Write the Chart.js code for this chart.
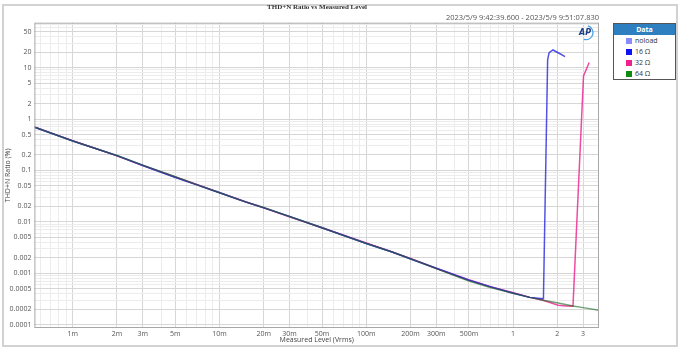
<!DOCTYPE html>
<html>
<head>
<meta charset="utf-8">
<script src="https://cdn.jsdelivr.net/npm/chart.js@4"></script>
<style>
  body { margin: 0; background: #fff; font-family: "Open Sans", sans-serif; }
  #wrap { position: relative; width: 692px; height: 363px; }
  #frame { position: absolute; left: 2px; top: 4px; width: 672px; height: 339px; border: 2px solid #d2d2d2; }
  #title { position: absolute; left: 0; width: 634px; top: 3px; text-align: center; font: bold 7px "Liberation Serif", serif; color: #333; }
  #stamp { position: absolute; right: 93px; top: 12px; font: 7.5px "Open Sans", sans-serif; color: #555; }
  #legend { position: absolute; left: 613px; top: 23px; width: 61px; height: 55px; border: 1px solid #555; background: #fff; }
  #legend .head { background: #2e7fbf; color: #fff; font: bold 7px "Open Sans", sans-serif; text-align: center; height: 11px; line-height: 11px; }
  #legend .item { position: absolute; left: 12px; font: 7px "Open Sans", sans-serif; color: #333; line-height: 8px; }
  #legend .sw { display: inline-block; width: 6px; height: 6px; margin-right: 3px; vertical-align: -1px; }
  canvas { position: absolute; left: 0; top: 0; }
</style>
</head>
<body>
<div id="wrap">
  <div id="frame"></div>
  <canvas id="chart" width="692" height="363"></canvas>
  <div id="title">THD+N Ratio vs Measured Level</div>
  <div id="stamp">2023/5/9 9:42:39.600 - 2023/5/9 9:51:07.830</div>
  <div id="legend"><div class="head">Data</div></div>
</div>
<script>
// measured level (Vrms) and THD+N ratio (%)
const seriesNames = ['noload', '16 Ω', '32 Ω', '64 Ω'];
const seriesColors = ['#8a8aff', '#1010f0', '#f0208c', '#108a10'];
const lineColors = ['rgba(138,138,255,0.8)', 'rgba(40,40,220,0.8)', 'rgba(235,30,140,0.8)', 'rgba(20,100,30,0.6)'];

const levelsNoload = [0.00055, 0.0007, 0.001, 0.0015, 0.002, 0.003, 0.005, 0.007, 0.01, 0.015, 0.02, 0.03, 0.05, 0.07, 0.1, 0.15, 0.2, 0.3, 0.5, 0.7, 1.0, 1.3, 1.6];
const thdNoload =    [0.69, 0.54, 0.376, 0.254, 0.195, 0.126, 0.0745, 0.053, 0.0372, 0.0246, 0.0189, 0.0126, 0.0078, 0.0054, 0.0038, 0.0026, 0.00193, 0.00126, 0.00075, 0.00054, 0.00042, 0.00034, 0.00031];

const levels16 = [0.00055, 0.0007, 0.001, 0.0015, 0.002, 0.003, 0.005, 0.007, 0.01, 0.015, 0.02, 0.03, 0.05, 0.07, 0.1, 0.15, 0.2, 0.3, 0.5, 0.7, 1.0, 1.3, 1.61, 1.72, 1.76, 1.87, 2.06, 2.26];
const thd16 =    [0.69, 0.54, 0.375, 0.255, 0.194, 0.125, 0.073, 0.0525, 0.0368, 0.0245, 0.0187, 0.0128, 0.0076, 0.0055, 0.0038, 0.0026, 0.0019, 0.00125, 0.00073, 0.00055, 0.00041, 0.00034, 0.00032, 14.2, 19.5, 22, 19, 16.4];

const levels32 = [0.00055, 0.0007, 0.001, 0.0015, 0.002, 0.003, 0.005, 0.007, 0.01, 0.015, 0.02, 0.03, 0.05, 0.07, 0.1, 0.15, 0.2, 0.3, 0.5, 0.7, 1.0, 1.3, 1.6, 2.03, 2.3, 2.56, 3.02, 3.3];
const thd32 =    [0.70, 0.545, 0.377, 0.256, 0.192, 0.124, 0.0745, 0.0535, 0.0370, 0.0247, 0.0188, 0.0125, 0.0077, 0.0055, 0.0039, 0.0026, 0.00195, 0.00124, 0.00074, 0.00055, 0.00042, 0.00034, 0.00030, 0.00024, 0.000232, 0.00023, 6.9, 12.6];

const levels64 = [0.00055, 0.0007, 0.001, 0.0015, 0.002, 0.003, 0.005, 0.007, 0.01, 0.015, 0.02, 0.03, 0.05, 0.07, 0.1, 0.15, 0.2, 0.3, 0.5, 0.7, 1.0, 1.3, 1.6, 2.03, 2.56, 3.0, 3.85];
const thd64 =    [0.69, 0.54, 0.375, 0.256, 0.195, 0.127, 0.0755, 0.053, 0.0368, 0.0245, 0.019, 0.0127, 0.0077, 0.0054, 0.0038, 0.0026, 0.00192, 0.00123, 0.00071, 0.00053, 0.00041, 0.00034, 0.00030, 0.000265, 0.000232, 0.000215, 0.00019];

const xTickValues = [0.001, 0.002, 0.003, 0.005, 0.01, 0.02, 0.03, 0.05, 0.1, 0.2, 0.3, 0.5, 1, 2, 3];
const xTickLabels = ['1m', '2m', '3m', '5m', '10m', '20m', '30m', '50m', '100m', '200m', '300m', '500m', '1', '2', '3'];
const yTickValues = [50, 20, 10, 5, 2, 1, 0.5, 0.2, 0.1, 0.05, 0.02, 0.01, 0.005, 0.002, 0.001, 0.0005, 0.0002, 0.0001];
const yTickLabels = ['50', '20', '10', '5', '2', '1', '0.5', '0.2', '0.1', '0.05', '0.02', '0.01', '0.005', '0.002', '0.001', '0.0005', '0.0002', '0.0001'];

const xMin = 0.000548, xMax = 3.85;
const yMin = 0.0000863, yMax = 74.7;

const findLabel = (values, labels, v) => {
    for (let i = 0; i < values.length; i++)
        if (Math.abs(values[i] - v) / values[i] < 1e-6) return labels[i];
    return null;
};

// every 1..9 x 10^n inside the range, so the minor grid gets drawn too
const logTicks = (min, max) => {
    const ticks = [];
    for (let e = Math.floor(Math.log10(min)); e <= Math.ceil(Math.log10(max)); e++) {
        for (let k = 1; k <= 9; k++) {
            const v = Number((k * Math.pow(10, e)).toPrecision(6));
            if (v >= min && v <= max) ticks.push({value: v});
        }
    }
    return ticks;
};

const toPoints = (xs, ys) => xs.map((x, i) => ({x: x, y: ys[i]}));

const legend = document.getElementById('legend');
seriesNames.forEach((name, i) => {
    const d = document.createElement('div');
    d.className = 'item';
    d.style.top = (13 + i * 11) + 'px';
    d.innerHTML = `<span class="sw" style="background:${seriesColors[i]}"></span>${name}`;
    legend.appendChild(d);
});

const frameAndLogo = {
    id: 'frameAndLogo',
    afterDraw(chart) {
        const {ctx, chartArea: a} = chart;
        ctx.save();
        ctx.strokeStyle = '#a8a8a8';
        ctx.lineWidth = 1;
        ctx.strokeRect(a.left + 0.5, a.top + 0.5, a.right - a.left - 1, a.bottom - a.top - 1);
        // AP logo
        const cx = a.right - 13, cy = a.top + 10;
        ctx.strokeStyle = '#4aa0e0';
        ctx.lineWidth = 1.3;
        ctx.beginPath();
        ctx.arc(cx, cy, 7, -1.3, 1.9);
        ctx.stroke();
        ctx.fillStyle = '#1c3f86';
        ctx.font = 'italic bold 8px "DejaVu Sans"';
        ctx.textAlign = 'center';
        ctx.textBaseline = 'middle';
        ctx.fillText('AP', cx - 1, cy);
        ctx.restore();
    }
};

const gridColor = (values) => (c) => {
    if (!c.tick) return '#e6e6e6';
    return findLabel(values, values, c.tick.value) !== null ? '#d6d6d6' : '#ececec';
};

const tickFont = {family: 'Open Sans', size: 7};

new Chart(document.getElementById('chart'), {
    type: 'line',
    data: {
        datasets: [
            {label: seriesNames[0], data: toPoints(levelsNoload, thdNoload), borderColor: lineColors[0], order: 3},
            {label: seriesNames[1], data: toPoints(levels16, thd16), borderColor: lineColors[1], order: 1},
            {label: seriesNames[2], data: toPoints(levels32, thd32), borderColor: lineColors[2], order: 2},
            {label: seriesNames[3], data: toPoints(levels64, thd64), borderColor: lineColors[3], order: 0},
        ]
    },
    options: {
        responsive: false,
        animation: false,
        events: [],
        layout: {padding: {left: 0, right: 93, top: 22.7, bottom: 17.5}},
        elements: {
            point: {radius: 0},
            line: {borderWidth: 1.5, tension: 0, fill: false}
        },
        plugins: {
            legend: {display: false},
            tooltip: {enabled: false},
            title: {display: false}
        },
        scales: {
            x: {
                type: 'logarithmic',
                min: xMin,
                max: xMax,
                afterBuildTicks: (s) => { s.ticks = logTicks(xMin, xMax); },
                afterFit: (s) => { s.height = 17.5; },
                ticks: {
                    autoSkip: false,
                    maxRotation: 0,
                    padding: 2,
                    color: '#555',
                    font: tickFont,
                    callback: (v) => findLabel(xTickValues, xTickLabels, v) || ''
                },
                grid: {drawTicks: false, color: gridColor(xTickValues)},
                border: {display: false},
                title: {display: true, text: 'Measured Level (Vrms)', color: '#444', font: tickFont, padding: {top: 0, bottom: 1}}
            },
            y: {
                type: 'logarithmic',
                min: yMin,
                max: yMax,
                afterBuildTicks: (s) => { s.ticks = logTicks(yMin, yMax); },
                afterFit: (s) => { s.width = 34.4; },
                ticks: {
                    autoSkip: false,
                    padding: 3,
                    color: '#555',
                    font: tickFont,
                    callback: (v) => findLabel(yTickValues, yTickLabels, v) || ''
                },
                grid: {drawTicks: false, color: gridColor(yTickValues)},
                border: {display: false},
                title: {display: true, text: 'THD+N Ratio (%)', color: '#444', font: tickFont, padding: {top: 4, bottom: 0}}
            }
        }
    },
    plugins: [frameAndLogo]
});
</script>
</body>
</html>
